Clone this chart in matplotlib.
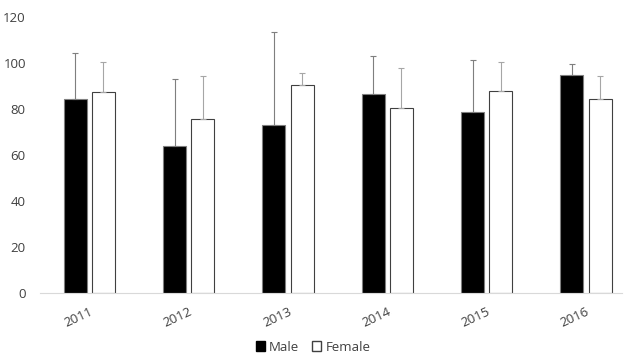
import numpy as np
import matplotlib.pyplot as plt
from matplotlib.patches import Patch

plt.rcParams['font.family'] = ['Open Sans', 'DejaVu Sans']

years = ['2011', '2012', '2013', '2014', '2015', '2016']
male = [84.1, 63.9, 73.0, 86.4, 78.6, 94.8]
female = [87.1, 75.8, 90.3, 80.2, 87.7, 84.3]
male_err = [20.2, 29.0, 40.2, 16.6, 22.4, 4.7]
female_err = [13.3, 18.5, 5.4, 17.6, 12.7, 10.0]

fig = plt.figure(figsize=(6.26, 3.6), dpi=100)
ax = fig.add_axes([0.0634, 0.186, 0.952, 0.7675])

x = np.arange(len(years))
w = 0.23
off = 0.142
txt = '#404040'

ax.bar(x - off, male, w, color='black', edgecolor='#7f7f7f', linewidth=0.8)
ax.bar(x + off, female, w, color='white', edgecolor='#404040', linewidth=0.8)
ax.errorbar(x - off, male, yerr=[np.zeros(6), male_err], fmt='none',
            ecolor='#7f7f7f', elinewidth=0.8, capsize=2.5, capthick=0.8)
ax.errorbar(x + off, female, yerr=[np.zeros(6), female_err], fmt='none',
            ecolor='#a6a6a6', elinewidth=0.8, capsize=2.5, capthick=0.8)

ax.set_xlim(-0.5, 5.5)
ax.set_ylim(0, 120)
ax.set_yticks(range(0, 121, 20))
ax.set_xticks(x)
ax.set_xticklabels(years, rotation=25, ha='right', rotation_mode='anchor')
ax.tick_params(length=0, labelsize=9.5, labelcolor=txt)
ax.tick_params(axis='y', pad=10)
ax.tick_params(axis='x', pad=9)

for s in ['top', 'right', 'left']:
    ax.spines[s].set_visible(False)
ax.spines['bottom'].set_color('#d9d9d9')
ax.spines['bottom'].set_bounds(-0.5, 5.36)

handles = [Patch(facecolor='black', edgecolor='black', label='Male'),
           Patch(facecolor='white', edgecolor='#404040', label='Female')]
fig.legend(handles=handles, loc='center', bbox_to_anchor=(0.5, 0.036), ncol=2,
           frameon=False, fontsize=9.5, labelcolor=txt, handlelength=0.7,
           handleheight=0.7, handletextpad=0.3, columnspacing=1.0)

fig.savefig('out.png', dpi=100)
